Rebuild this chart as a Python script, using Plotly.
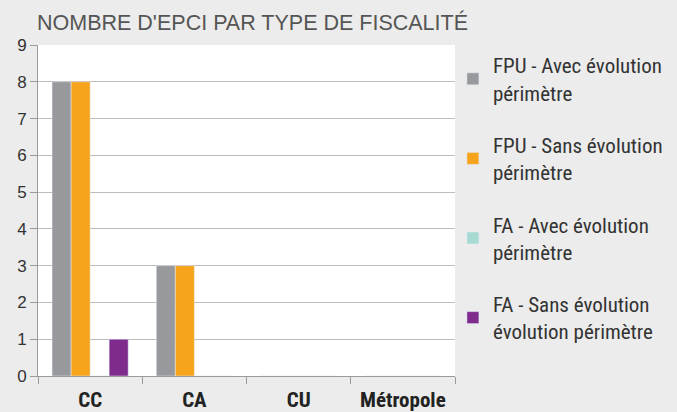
import plotly.graph_objects as go

# data
categories = ["CC", "CA", "CU", "Métropole"]
fpu_avec = [8, 3, 0, 0]
fpu_sans = [8, 3, 0, 0]
fa_avec = [0, 0, 0, 0]
fa_sans = [1, 0, 0, 0]

series_names = [
    "FPU - Avec évolution<br>périmètre",
    "FPU - Sans évolution<br>périmètre",
    "FA - Avec évolution<br>périmètre",
    "FA - Sans évolution<br>évolution périmètre",
]
series_values = [fpu_avec, fpu_sans, fa_avec, fa_sans]
series_colors = ["#98999c", "#f7a41d", "#a6dad3", "#7f2b8e"]

condensed = "Liberation Sans Narrow, Roboto Condensed, Arial Narrow, sans-serif"

fig = go.Figure()
for i, (name, vals, col) in enumerate(zip(series_names, series_values, series_colors)):
    fig.add_trace(go.Bar(
        x=categories,
        y=vals,
        name=name,
        marker_color=col,
        legendgroup="g%d" % i,  # separate groups so tracegroupgap spaces the entries
    ))

fig.update_layout(
    width=677,
    height=412,
    paper_bgcolor="#ebeceb",
    plot_bgcolor="white",
    margin=dict(l=38, r=222, t=45, b=36, autoexpand=False),
    barmode="group",
    bargap=0.27,
    bargroupgap=0,
    title=dict(
        text="NOMBRE D'EPCI PAR TYPE DE FISCALITÉ",
        x=37 / 677, xanchor="left",
        y=1 - 22 / 412, yanchor="middle",
        font=dict(family="Liberation Sans, Arial, sans-serif", size=21.5, color="#555555"),
    ),
    legend=dict(
        x=0.995, xanchor="left",
        y=1.0, yanchor="top",
        font=dict(family=condensed, size=21, color="#333333"),
        tracegroupgap=22,
        itemwidth=30,
        bgcolor="rgba(0,0,0,0)",
    ),
    showlegend=True,
)

fig.update_xaxes(
    automargin=False,
    showgrid=False,
    showline=True, linecolor="#9a9a9a", linewidth=1,
    ticks="outside", tickson="boundaries", ticklen=7, tickcolor="#9a9a9a",
    ticklabelstandoff=5,
    tickfont=dict(family=condensed, size=21, color="#222222", weight="bold"),
)
fig.update_yaxes(
    automargin=False,
    range=[0, 9], dtick=1,
    showgrid=True, gridcolor="#bdbdbd", gridwidth=1,
    showline=True, linecolor="#9a9a9a", linewidth=1,
    ticks="outside", ticklen=7, tickcolor="#9a9a9a",
    zeroline=False,
    tickfont=dict(family="Liberation Sans, Arial, sans-serif", size=17, color="#333333"),
)

# drop the default page margin so the chart sits at the window's corner
fig.write_html(
    "out.html",
    config={"displayModeBar": False},
    post_script="document.body.style.margin='0';document.body.style.background='#ebeceb';",
)
